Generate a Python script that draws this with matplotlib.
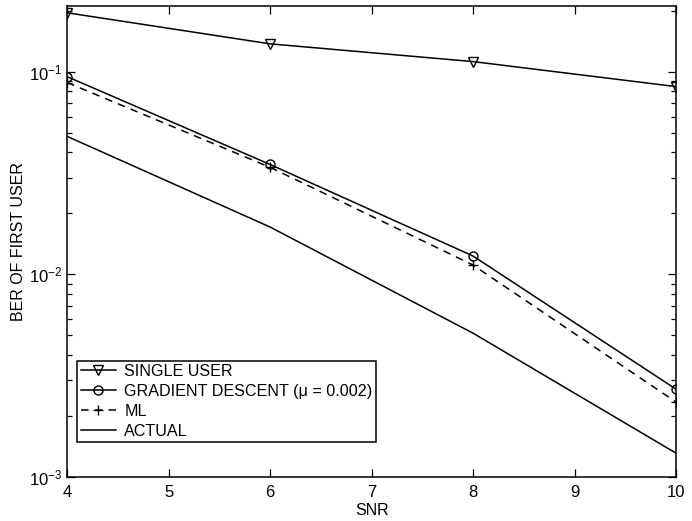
import numpy as np
import matplotlib
matplotlib.use('Agg')
import matplotlib.pyplot as plt
from matplotlib.ticker import LogLocator, NullFormatter

plt.rcParams['font.family'] = ['Liberation Sans', 'DejaVu Sans']
plt.rcParams['mathtext.fontset'] = 'custom'
plt.rcParams['mathtext.rm'] = 'Liberation Sans'

snr = [4, 6, 8, 10]
single_user = [0.195, 0.137, 0.112, 0.0843]
gradient = [0.0944, 0.0348, 0.0123, 0.00271]
ml = [0.0883, 0.0337, 0.0111, 0.00234]
actual = [0.0479, 0.0171, 0.00512, 0.00131]

fig = plt.figure(figsize=(6.92, 5.21), dpi=100)
ax = fig.add_axes([0.097, 0.0845, 0.88, 0.9035])

ax.semilogy(snr, single_user, color='k', lw=1.1, marker='v', mfc='none',
            ms=6.5, mew=1.0, label='SINGLE USER')
ax.semilogy(snr, gradient, color='k', lw=1.1, marker='o', mfc='none',
            ms=6.5, mew=1.0, label=u'GRADIENT DESCENT (\u03bc = 0.002)')
ax.semilogy(snr, ml, color='k', lw=1.1, ls=(0, (5, 4)), marker='+',
            ms=7, mew=1.0, label='ML')
ax.semilogy(snr, actual, color='k', lw=1.1, label='ACTUAL')

ax.set_xlim(4, 10)
ax.set_ylim(1e-3, 0.21)
ax.set_xticks(range(4, 11))
ax.yaxis.set_major_locator(LogLocator(base=10, numticks=10))
ax.yaxis.set_minor_locator(LogLocator(base=10, subs=np.arange(2, 10), numticks=10))
ax.yaxis.set_minor_formatter(NullFormatter())

ax.tick_params(which='both', direction='in', top=True, right=True,
               labelsize=12, width=0.9)
ax.tick_params(which='major', length=6)
ax.tick_params(which='minor', length=3.5)
ax.tick_params(axis='x', which='major', pad=6)
for s in ax.spines.values():
    s.set_linewidth(1.1)

ax.set_xlabel('SNR', fontsize=11.5, labelpad=2)
ax.set_ylabel('BER OF FIRST USER', fontsize=11.5, labelpad=2)

# legend box: tight vertically, a bit wider handles
leg = ax.legend(loc='lower left', bbox_to_anchor=(0.017, 0.074), borderaxespad=0,
                fontsize=11.6, fancybox=False, edgecolor='k', framealpha=1,
                handlelength=2.2, handletextpad=0.5, labelspacing=0.31,
                borderpad=0.2)
leg.get_frame().set_linewidth(1.1)

fig.savefig('out.png', dpi=100)
